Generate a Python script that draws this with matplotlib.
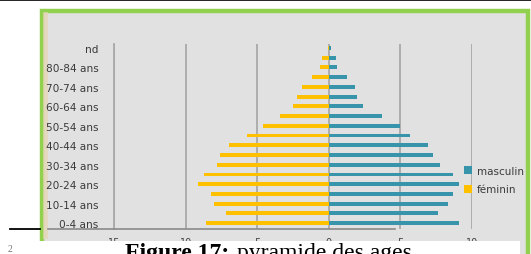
import matplotlib
matplotlib.use("Agg")
import matplotlib.pyplot as plt
from matplotlib.patches import Rectangle
from matplotlib.lines import Line2D

# age groups, bottom to top
categories = ["0-4 ans", "5-9 ans", "10-14 ans", "15-19 ans", "20-24 ans",
              "25-29 ans", "30-34 ans", "35-39 ans", "40-44 ans", "45-49 ans",
              "50-54 ans", "55-59 ans", "60-64 ans", "65-69 ans", "70-74 ans",
              "75-79 ans", "80-84 ans", "85 ans et +", "nd"]
masculin = [9.1, 7.6, 8.3, 8.7, 9.1, 8.7, 7.8, 7.3, 6.9, 5.7,
            5.0, 3.7, 2.4, 2.0, 1.8, 1.3, 0.6, 0.5, 0.15]
feminin = [8.6, 7.2, 8.0, 8.2, 9.1, 8.7, 7.8, 7.6, 7.0, 5.7,
           4.6, 3.4, 2.5, 2.2, 1.9, 1.2, 0.6, 0.5, 0.05]
shown_labels = ["0-4 ans", "10-14 ans", "20-24 ans", "30-34 ans", "40-44 ans",
                "50-54 ans", "60-64 ans", "70-74 ans", "80-84 ans", "nd"]
x_ticks = [-15, -10, -5, 0, 5, 10]

W, H = 531, 255
fig = plt.figure(figsize=(W / 100, H / 100), dpi=100)
fig.patch.set_facecolor("white")

def fx(px):
    return px / W

def fy(py):
    return 1 - py / H

# document rule on top
fig.add_artist(Line2D([0, 1], [fy(1), fy(1)], color="black", lw=1.2, zorder=5))

# green frame with grey inside
fig.add_artist(Rectangle((fx(41.5), fy(262)), fx(486.5), 250.5 / H, facecolor="#e1e1e1",
                         edgecolor="#92d050", lw=3.2, zorder=-2))
fig.add_artist(Rectangle((fx(43), fy(240)), fx(5), 227 / H, facecolor="#e6d6b2",
                         edgecolor="none", alpha=0.7, zorder=-1))

ax = fig.add_axes([fx(114), fy(230), fx(472 - 114), (230 - 45) / H])
ax.patch.set_visible(False)

y = list(range(len(categories)))
neg_fem = [-v for v in feminin]
ax.barh(y, masculin, height=0.4, color="#3794aa", label="masculin", zorder=3)
ax.barh(y, neg_fem, height=0.4, color="#ffc000", label="féminin", zorder=3)

ax.set_xlim(-15, 10)
ax.set_ylim(-0.6, 18.4)
ax.set_xticks(x_ticks)
ax.set_xticklabels([str(abs(t)) for t in x_ticks], fontsize=7, color="#404040")
ax.set_yticks([categories.index(c) for c in shown_labels])
ax.set_yticklabels(shown_labels, fontsize=7.6, color="#3a3a3a")
ax.tick_params(axis="y", length=0, pad=11)
ax.tick_params(axis="x", length=0, pad=6)
ax.grid(axis="x", color="#a9a9a9", lw=1.3, zorder=0)
for s in ["top", "right", "bottom"]:
    ax.spines[s].set_visible(False)
ax.spines["left"].set_color("#a9a9a9")
ax.spines["left"].set_linewidth(1.3)

ax.legend(loc="center left", bbox_to_anchor=(fx(459), fy(181)),
          bbox_transform=fig.transFigure, frameon=False, fontsize=7.5,
          handlelength=0.75, handleheight=0.75, handletextpad=0.5,
          labelspacing=0.85, borderpad=0, labelcolor="#3a3a3a")

# darker base line and left document rule
fig.add_artist(Line2D([fx(48), fx(395)], [fy(230), fy(230)], color="#8a8a8a", lw=1.2, zorder=5))
fig.add_artist(Line2D([fx(10), fx(40)], [fy(230), fy(230)], color="black", lw=1.3, zorder=5))

# caption band, cut at the bottom
fig.add_artist(Rectangle((0, 0), fx(520), 13.5 / H, facecolor="white",
                         edgecolor="none", zorder=8))
fig.text(fx(125), fy(259), "Figure 17:", family="Liberation Serif", weight="bold",
         fontsize=17, zorder=9)
fig.text(fx(237), fy(259), "pyramide des ages", family="Liberation Serif",
         fontsize=17, zorder=9)
fig.text(fx(8), fy(252), "2", family="Liberation Serif", fontsize=7,
         color="#777777", zorder=9)

fig.savefig("out.png", dpi=100)
